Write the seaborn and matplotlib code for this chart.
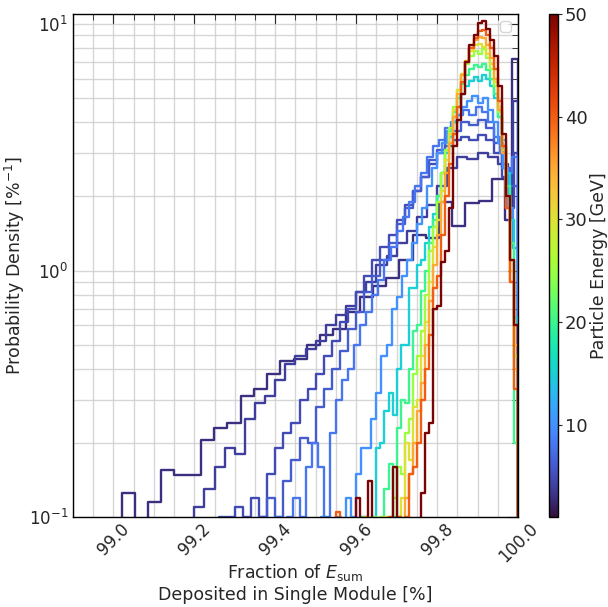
import numpy as np
import pandas as pd
import matplotlib
matplotlib.use("Agg")
import matplotlib.pyplot as plt
import seaborn as sns
from matplotlib.ticker import MultipleLocator, LogLocator, NullFormatter
from matplotlib.colors import Normalize
from matplotlib.cm import ScalarMappable

# ---------------- data ----------------
energies = [3, 4, 5, 6, 8, 10, 15, 20, 25, 30, 35, 40, 50]   # GeV
bin_start = [99.02, 99.20, 99.26, 99.36, 99.40, 99.50, 99.55, 99.55, 99.55, 99.55, 99.55, 99.55, 99.55]
bin_width = [0.0327, 0.025, 0.02, 0.02, 0.015, 0.0125, 0.01, 0.01, 0.01, 0.01, 0.01, 0.01, 0.01]

h3 = [0.125, 0, 0.115, 0.155, 0.148, 0.148, 0.205, 0.23, 0.24, 0.31,
      0.33, 0.38, 0.43, 0.44, 0.5, 0.55, 0.58, 0.68, 0.78, 0.87,
      0.93, 1.1, 1.4, 1.36, 1.9, 1.52, 1.89, 1.92, 2.36]
h4 = [0.11, 0.13, 0.16, 0.19, 0.18, 0.25, 0.29, 0.31, 0.36, 0.42,
      0.45, 0.48, 0.52, 0.6, 0.66, 0.72, 0.82, 0.9, 1.05, 1.15,
      1.3, 1.45, 1.65, 1.85, 2.2, 2.6, 2.9, 2.85, 3.0, 2.9, 2.7]
h5 = [0.1, 0.1, 0.11, 0.1, 0.12, 0.1, 0.15, 0.19, 0.22, 0.24,
      0.3, 0.33, 0.38, 0.45, 0.52, 0.62, 0.7, 0.82, 0.95, 1.1,
      1.25, 1.4, 1.6, 1.85, 2.1, 2.4, 2.7, 3.0, 3.2, 3.4,
      3.5, 3.4, 3.55, 3.4, 3.0, 2.4]
h6 = [0.1, 0.12, 0.1, 0.14, 0.17, 0.21, 0.2, 0.28, 0.33, 0.4,
      0.47, 0.58, 0.68, 0.82, 0.95, 1.1, 1.3, 1.55, 1.8, 2.1,
      2.4, 2.8, 3.1, 3.5, 3.7, 4.0, 3.9, 4.1, 3.8, 3.3, 2.6, 2.2]
h8 = [0.1, 0, 0.1, 0.12, 0.1, 0.16, 0.2, 0.16, 0.1, 0.22,
      0.3, 0.36, 0.4, 0.5, 0.6, 0.68, 0.8, 0.92, 1.1, 1.25,
      1.45, 1.65, 1.9, 2.2, 2.5, 2.9, 3.2, 3.4, 3.8, 4.0,
      4.3, 4.5, 4.3, 4.6, 4.4, 4.0, 3.5, 3.0, 2.5, 2.9]
h10 = [0, 0.1, 0, 0, 0.1, 0, 0.12, 0.1, 0.15, 0.19,
       0.19, 0.25, 0.32, 0.45, 0.5, 0.7, 0.78, 0.95, 1.1, 1.3,
       1.55, 1.8, 2.2, 2.6, 3.0, 3.3, 3.7, 4.0, 4.3, 4.6,
       4.9, 5.1, 4.8, 5.0, 4.5, 4.0, 3.3, 2.6, 1.8, 1.24]
h15 = [0, 0, 0, 0, 0, 0, 0.1, 0.1, 0, 0.1, 0.19, 0.2, 0.27, 0.32, 0.26, 0.4,
       0.5, 0.5, 0.85, 0.85, 1.05, 1.1, 1.3, 1.5, 1.7, 2.0,
       2.5, 3.0, 3.5, 4.0, 4.6, 5.2, 5.6, 5.9, 6.1, 5.9,
       6.2, 6.0, 5.6, 5.0, 4.2, 3.4, 2.5, 1.6, 0.64]
h20 = [0, 0, 0, 0, 0, 0, 0, 0.1, 0, 0, 0,
       0.1, 0.13, 0.165, 0.1, 0.23, 0.3, 0.29, 0.4, 0.57, 0.6,
       0.83, 1.0, 1.3, 1.6, 2.0, 2.5, 3.1, 3.7, 4.4, 5.0,
       5.7, 6.2, 6.6, 6.8, 6.7, 6.9, 6.5, 6.0, 5.2, 4.2,
       3.2, 2.2, 1.3, 0.2]
h25 = [0, 0, 0, 0, 0, 0, 0, 0, 0, 0.1, 0,
       0.1, 0, 0.1, 0.12, 0.16, 0.15, 0.22, 0.25, 0.38, 0.45,
       0.57, 0.8, 1.2, 1.5, 1.9, 2.5, 3.1, 3.8, 4.6, 5.4,
       6.2, 6.9, 7.4, 7.8, 7.6, 7.9, 7.3, 6.6, 5.6, 4.4,
       3.1, 2.0, 1.1, 0.45]
h30 = [0, 0, 0, 0, 0, 0, 0, 0, 0, 0, 0, 0, 0.1, 0, 0,
       0.1, 0.12, 0.2, 0.17, 0.28, 0.3, 0.45, 0.62, 0.9, 1.25,
       1.6, 2.1, 2.8, 3.6, 4.5, 5.4, 6.3, 7.1, 7.8, 8.2,
       8.3, 8.1, 7.6, 6.9, 5.8, 4.6, 3.2, 2.0, 1.0, 0.5]
h35 = [0, 0, 0, 0, 0, 0, 0, 0.1, 0, 0, 0, 0, 0, 0, 0,
       0.1, 0, 0.12, 0.15, 0.2, 0.27, 0.35, 0.5, 0.75, 1.05,
       1.4, 1.9, 2.5, 3.3, 4.2, 5.2, 6.2, 7.1, 8.0, 8.6,
       8.9, 8.8, 8.2, 7.3, 6.0, 4.5, 3.0, 1.8, 0.9, 0.4]
h40 = [0.105, 0, 0, 0, 0, 0, 0, 0, 0, 0, 0, 0, 0, 0.1, 0,
       0.1, 0, 0.1, 0.15, 0.16, 0.2, 0.3, 0.4, 0.55, 0.85,
       0.95, 1.4, 2.0, 2.7, 3.6, 4.6, 5.8, 7.0, 8.0, 8.8,
       9.4, 9.5, 9.0, 8.0, 6.6, 4.9, 3.2, 1.8, 0.9, 0.33]
h50 = [0, 0, 0, 0, 0, 0.12, 0, 0, 0.14, 0,
       0, 0, 0, 0, 0.16, 0, 0, 0, 0, 0,
       0, 0.125, 0.22, 0.24, 0.7, 0.72, 1.08, 1.2, 1.8, 3.2,
       4.1, 5.2, 7.0, 8.2, 9.0, 10.1, 10.3, 9.6, 8.6, 7.4,
       5.6, 3.6, 2.0, 1.1, 0.6]
heights = [h3, h4, h5, h6, h8, h10, h15, h20, h25, h30, h35, h40, h50]

# extra narrow bins at the upper end (edges, values)
tail_edges = {3: [99.985, 100.0], 4: [99.9875, 100.0], 5: [99.99, 100.0]}
tail_values = {3: [1.6, 7.2], 4: [2.2, 4.9], 5: [1.8, 3.0]}

x_ticks = [99.0, 99.2, 99.4, 99.6, 99.8, 100.0]
cbar_ticks = [10, 20, 30, 40, 50]

# ---------------- style ----------------
sns.set_style("white")
plt.rcParams.update({
    "font.family": ["DejaVu Sans"],
    "xtick.direction": "in", "ytick.direction": "in",
    "xtick.top": True, "ytick.right": True,
    "xtick.major.size": 7, "ytick.major.size": 7,
    "xtick.minor.size": 4, "ytick.minor.size": 4,
    "xtick.labelsize": 12, "ytick.labelsize": 12,
    "axes.edgecolor": "black", "axes.linewidth": 1.0,
})

fig = plt.figure(figsize=(6.08, 6.07), dpi=100)
ax = fig.add_axes([0.120, 0.148, 0.732, 0.829])
cax = fig.add_axes([0.903, 0.148, 0.0148, 0.829])

cmap = plt.get_cmap("turbo")
norm = Normalize(vmin=1, vmax=50)

for e, s, w, h in zip(energies, bin_start, bin_width, heights):
    vals = [float(v) for v in h]
    edges = [float(s + w * i) for i in range(len(vals) + 1)]
    if e in tail_edges:
        edges += tail_edges[e]
        vals += tail_values[e]
    edges = [edges[0] - w] + edges + [edges[-1] + w]
    vals = [0.0] + vals + [0.0]
    centers = [0.5 * (a + b) for a, b in zip(edges[:-1], edges[1:])]
    df = pd.DataFrame({"frac": centers, "dens": vals})
    sns.histplot(data=df, x="frac", weights="dens", bins=edges, element="step",
                 fill=False, color=cmap(norm(e)), linewidth=1.7, ax=ax)

ax.set_yscale("log")
ax.set_xlim(98.9, 100.0)
ax.set_ylim(0.1, 11)
ax.set_xticks(x_ticks)
ax.set_xticklabels([f"{t:.1f}" for t in x_ticks], rotation=45, ha="center")
ax.xaxis.set_minor_locator(MultipleLocator(0.05))
ax.yaxis.set_minor_locator(LogLocator(base=10, subs=np.arange(2, 10)))
ax.yaxis.set_minor_formatter(NullFormatter())
ax.tick_params(which="both", direction="in", top=True, right=True)
ax.tick_params(axis="x", which="major", pad=2)
ax.grid(True, which="both", color="0.8", linewidth=1.0, alpha=0.8)
ax.set_axisbelow(True)

ax.set_xlabel("Fraction of $E_{\\mathrm{sum}}$\nDeposited in Single Module [%]",
              fontsize=12.5, labelpad=-3, linespacing=1.2)
ax.set_ylabel("Probability Density [%$^{-1}$]", fontsize=12.5, labelpad=1)
ax.legend(handles=[], loc="upper right")

sm = ScalarMappable(norm=norm, cmap=cmap)
cb = fig.colorbar(sm, cax=cax)
cb.set_ticks(cbar_ticks)
cb.ax.tick_params(labelsize=13, direction="out", length=3, pad=2)
cb.ax.minorticks_off()
cb.set_label("Particle Energy [GeV]", fontsize=12.5, labelpad=2)

fig.savefig("out.png", dpi=100)
